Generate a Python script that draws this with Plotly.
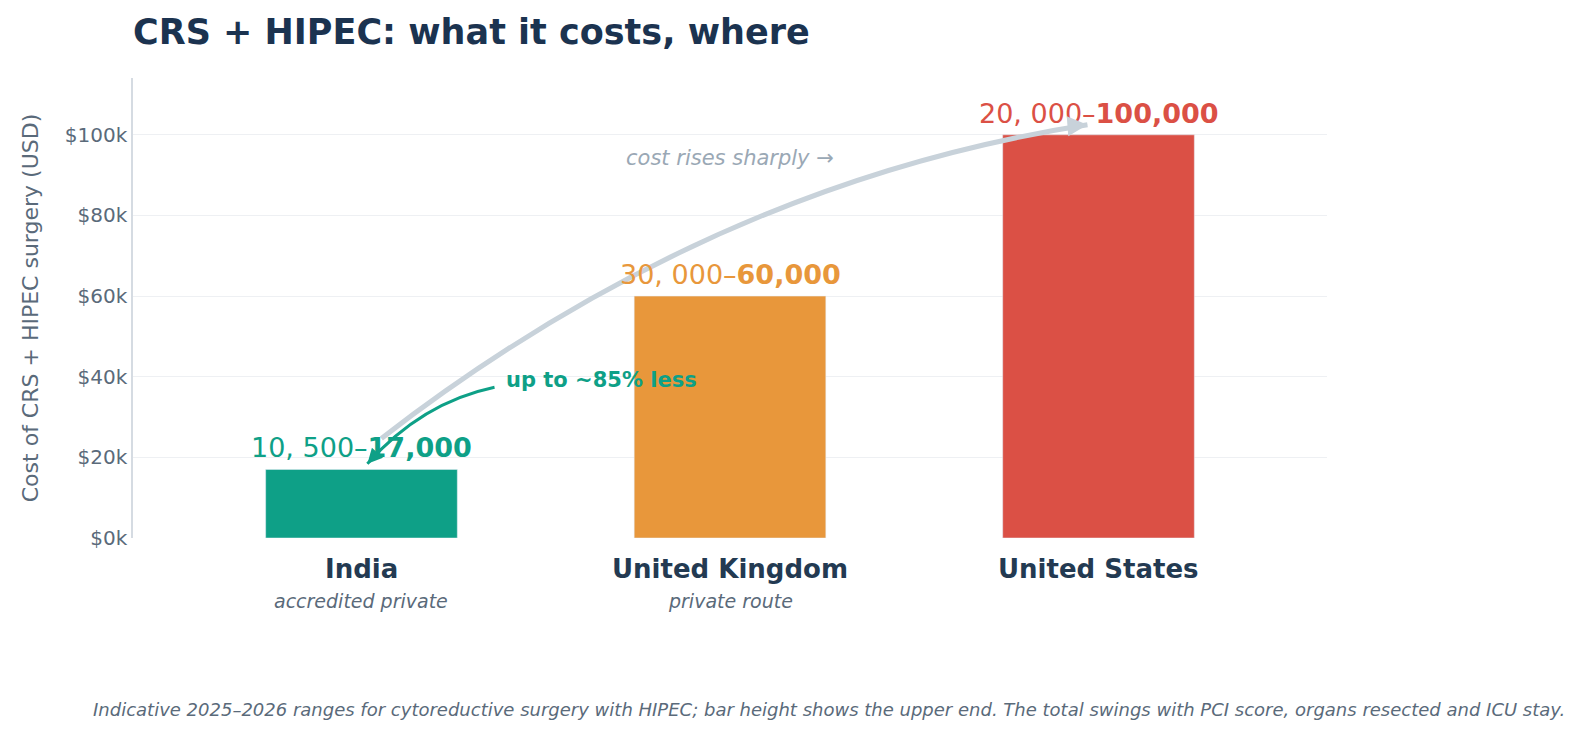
import plotly.graph_objects as go

countries = ["India", "United Kingdom", "United States"]
subtitles = ["accredited private", "private route", ""]
low_k = ["10, 500", "30, 000", "20, 000"]
high_vals = [17000, 60000, 100000]
high_lbl = ["17,000", "60,000", "100,000"]
colors = ["#0ea087", "#e8973b", "#db5045"]
yticks = [0, 20, 40, 60, 80, 100]
ytick_text = ["$0k", "$20k", "$40k", "$60k", "$80k", "$100k"]

xs = list(range(len(countries)))
yk = [v / 1000 for v in high_vals]

fig = go.Figure(go.Bar(x=xs, y=yk, marker_color=colors, width=0.52, hoverinfo="skip"))

ann = []
for i in xs:
    ann.append(dict(x=i, y=yk[i], yref="y", text=f"{low_k[i]}–<b>{high_lbl[i]}</b>",
                    showarrow=False, yanchor="bottom", yshift=4,
                    font=dict(size=27, color=colors[i], family="DejaVu Sans")))
    ann.append(dict(x=i, y=-0.105, yref="paper", text=f"<b>{countries[i]}</b>", showarrow=False,
                    font=dict(size=26, color="#233a52", family="DejaVu Sans")))
    if subtitles[i]:
        ann.append(dict(x=i, y=-0.165, yref="paper", text=f"<i>{subtitles[i]}</i>", showarrow=False,
                        font=dict(size=19, color="#5a6a7a", family="DejaVu Sans")))
ann += [
    dict(x=1.97, y=102.5, ax=-20, ay=1.5, text="", showarrow=True, arrowhead=2, arrowsize=1,
         arrowwidth=4, arrowcolor="#c8d2da"),
    dict(x=0.016, y=18.4, ax=10, ay=-11, text="", showarrow=True, arrowhead=2, arrowsize=1,
         arrowwidth=3, arrowcolor="#0ea087"),
    dict(x=0.386, y=39.1, text="<b>up to ~85% less</b>", showarrow=False, xanchor="left",
         font=dict(size=21, color="#0ea087", family="DejaVu Sans")),
    dict(x=1, y=94.2, text="<i>cost rises sharply →</i>", showarrow=False,
         font=dict(size=21, color="#9aa8b5", family="DejaVu Sans")),
    dict(x=0.583, y=-0.40, xref="paper", yref="paper", showarrow=False,
         text="<i>Indicative 2025–2026 ranges for cytoreductive surgery with HIPEC; bar height shows the upper end. The total swings with PCI score, organs resected and ICU stay.</i>",
         font=dict(size=18, color="#5a6a7a", family="DejaVu Sans")),
]

shapes = [
    dict(type="path", path="M 0.054,24.7 Q 0.95,88 1.97,102.5", line=dict(color="#c8d2da", width=5),
         xref="x", yref="y"),
    dict(type="path", path="M 0.361,37.4 Q 0.163,33.6 0.016,18.4", line=dict(color="#0ea087", width=3),
         xref="x", yref="y"),
]

fig.update_layout(
    width=1574, height=744, margin=dict(l=125, r=255, t=70, b=214),
    plot_bgcolor="white", paper_bgcolor="white", showlegend=False,
    title=dict(text="<b>CRS + HIPEC: what it costs, where</b>", x=0, xref="paper", xanchor="left",
               y=0.985, yanchor="top", font=dict(size=35, color="#1b3350", family="DejaVu Sans")),
    xaxis=dict(range=[-0.62, 2.62], showticklabels=False, showgrid=False, zeroline=False),
    yaxis=dict(range=[0, 114.1], tickvals=yticks, ticktext=ytick_text, gridcolor="#eef0f3",
               zeroline=False, showline=True, linecolor="#d5dbe2", linewidth=1.5,
               tickfont=dict(size=20, color="#5a6a7a", family="DejaVu Sans"),
               title=dict(text="Cost of CRS + HIPEC surgery (USD)", standoff=20,
                          font=dict(size=22, color="#5a6a7a", family="DejaVu Sans"))),
    annotations=ann, shapes=shapes,
)
fig.write_html("out.html")
